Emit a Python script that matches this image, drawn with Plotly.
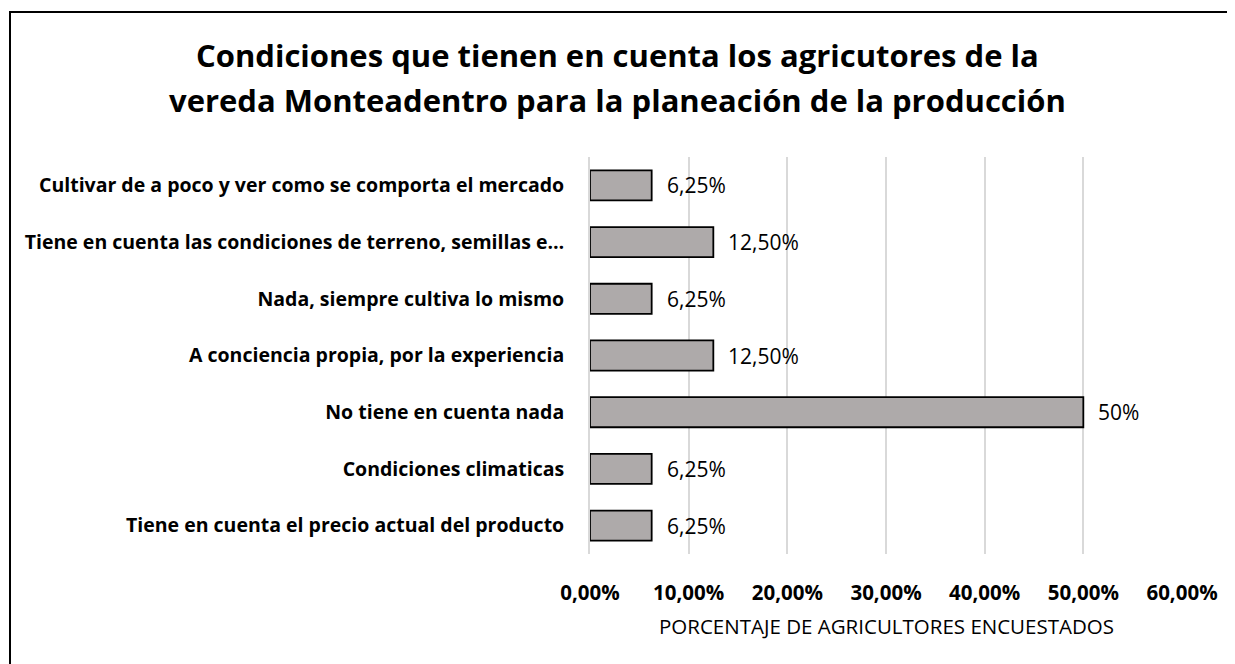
import plotly.graph_objects as go

categories = [
    "Cultivar de a poco y ver como se comporta el mercado",
    "Tiene en cuenta las condiciones de terreno, semillas e…",
    "Nada, siempre cultiva lo mismo",
    "A conciencia propia, por la experiencia",
    "No tiene en cuenta nada",
    "Condiciones climaticas",
    "Tiene en cuenta el precio actual del producto",
]
values = [0.0625, 0.125, 0.0625, 0.125, 0.50, 0.0625, 0.0625]
value_labels = ["6,25%", "12,50%", "6,25%", "12,50%", "50%", "6,25%", "6,25%"]
tick_vals = [0, 0.1, 0.2, 0.3, 0.4, 0.5, 0.6]
tick_text = ["0,00%", "10,00%", "20,00%", "30,00%", "40,00%", "50,00%", "60,00%"]
title_lines = [
    "Condiciones que tienen en cuenta los agricutores de la",
    "vereda Monteadentro para la planeación de la producción",
]
x_title = "PORCENTAJE DE AGRICULTORES ENCUESTADOS"

FONT = "Open Sans"
W, H = 1227, 656          # page has an 8px body margin
L, R, T, B = 582, 53, 149, 110
PW, PH = W - L - R, H - T - B


def px(fx):   # figure pixel -> paper x
    return (fx - L) / PW


def py(fy):   # figure pixel -> paper y
    return (H - B - fy) / PH


fig = go.Figure()
fig.add_trace(go.Bar(
    x=values, y=categories, orientation="h",
    marker=dict(color="#aeaaaa", line=dict(color="#000000", width=1.8)),
    width=0.53, hoverinfo="skip",
))

for c, v, t in zip(categories, values, value_labels):
    fig.add_annotation(x=v, y=c, text=t, showarrow=False, xanchor="left",
                       xshift=13, font=dict(family=FONT, size=21, color="#000000"))

for line, fy in zip(title_lines, [47, 92]):
    fig.add_annotation(xref="paper", yref="paper", x=px(609), y=py(fy),
                       text=line, showarrow=False, xanchor="center", yanchor="middle",
                       font=dict(family=FONT, size=31, color="#000000", weight="bold"))

fig.add_annotation(xref="paper", yref="paper", x=0.5, y=py(618), text=x_title,
                   showarrow=False, xanchor="center", yanchor="middle",
                   font=dict(family=FONT, size=20.5, color="#000000"))

fig.update_layout(
    width=W, height=H,
    paper_bgcolor="white", plot_bgcolor="white",
    margin=dict(l=L, r=R, t=T, b=B, autoexpand=False),
    showlegend=False,
    xaxis=dict(
        range=[0, 0.6], tickvals=tick_vals, ticktext=tick_text,
        showgrid=True, gridcolor="#d9d9d9", gridwidth=1.8,
        zeroline=False, showline=False, automargin=False,
        tickfont=dict(family=FONT, size=20.5, color="#000000", weight="bold"),
        ticklabelstandoff=24,
    ),
    yaxis=dict(
        autorange="reversed", showgrid=False, showline=True, automargin=False,
        linecolor="#d9d9d9", linewidth=1.8,
        tickfont=dict(family=FONT, size=19.5, color="#000000", weight="bold"),
        ticklabelstandoff=20,
    ),
)

fig.add_shape(type="rect", xref="paper", yref="paper",
              x0=px(2), x1=px(W + 40), y0=py(H + 40), y1=py(4),
              line=dict(color="#000000", width=2), fillcolor="rgba(0,0,0,0)", layer="below")

fig.write_html("out.html")
